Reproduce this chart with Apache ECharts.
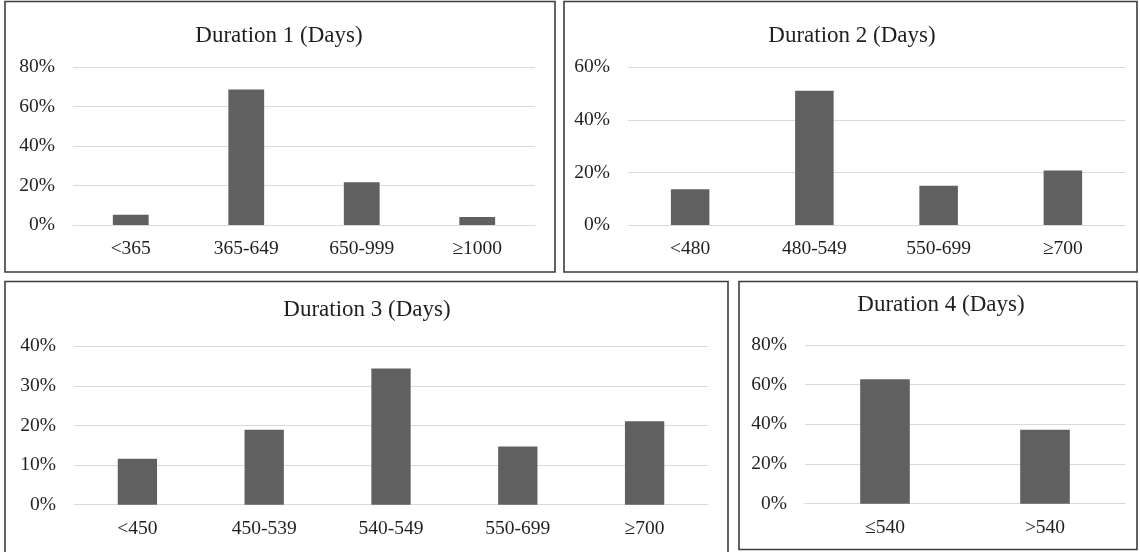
<!DOCTYPE html>
<html>
<head>
<meta charset="utf-8">
<script src="https://cdn.jsdelivr.net/npm/echarts@6/dist/echarts.min.js"></script>
<style>
html,body{margin:0;padding:0;background:#fff;}
#chart{width:1140px;height:552px;}
</style>
</head>
<body>
<div id="chart"></div>
<script>
// ---- data ----
const titles = ['Duration 1 (Days)', 'Duration 2 (Days)', 'Duration 3 (Days)', 'Duration 4 (Days)'];
const cats1 = ['<365', '365-649', '650-999', '≥1000'];
const vals1 = [5.2, 68.8, 21.7, 4.1];
const cats2 = ['<480', '480-549', '550-699', '≥700'];
const vals2 = [13.6, 51.1, 14.9, 20.7];
const cats3 = ['<450', '450-539', '540-549', '550-699', '≥700'];
const vals3 = [11.6, 18.9, 34.4, 14.7, 21.1];
const cats4 = ['≤540', '>540'];
const vals4 = [62.7, 37.3];
const yMax = [80, 60, 40, 80];
const yStep = [20, 20, 10, 20];

// ---- layout ----
const W = 1140, H = 552;
const panels = [
  {x: 5,   y: 1.5,   w: 550, h: 270.5},
  {x: 564, y: 1.5,   w: 573, h: 270.5},
  {x: 5,   y: 281.5, w: 723, h: 280},
  {x: 739, y: 281.5, w: 398, h: 268}
];
const grids = [
  {left: 73,  top: 67.3,  width: 462, height: 157.7},
  {left: 628, top: 67.3,  width: 497, height: 157.7},
  {left: 74,  top: 346.3, width: 634, height: 158.4},
  {left: 805, top: 345,   width: 320, height: 158.7}
];
const titleCenters = [[279, 36], [852, 36], [367, 310], [941, 305]];

const cats = [cats1, cats2, cats3, cats4];
const vals = [vals1, vals2, vals3, vals4];
const FONT = '"Liberation Serif", "Times New Roman", serif';
const TXT = '#1f1f1f';

const option = {
  animation: false,
  backgroundColor: '#fff',
  title: titles.map((t, i) => ({
    text: t,
    left: titleCenters[i][0],
    top: titleCenters[i][1],
    padding: 0,
    textAlign: 'center',
    textVerticalAlign: 'middle',
    textStyle: {fontFamily: FONT, fontSize: 23, fontWeight: 'normal', color: TXT}
  })),
  grid: grids.map(g => ({left: g.left, top: g.top, width: g.width, height: g.height, containLabel: false})),
  xAxis: cats.map((c, i) => ({
    type: 'category',
    gridIndex: i,
    data: c,
    axisLine: {show: true, lineStyle: {color: '#d9d9d9', width: 1}},
    axisTick: {show: false},
    axisLabel: {fontFamily: FONT, fontSize: 19.5, color: TXT, margin: 14, interval: 0}
  })),
  yAxis: cats.map((c, i) => ({
    type: 'value',
    gridIndex: i,
    min: 0,
    max: yMax[i],
    interval: yStep[i],
    axisLine: {show: false},
    axisTick: {show: false},
    splitLine: {show: true, lineStyle: {color: '#d9d9d9', width: 1}},
    axisLabel: {fontFamily: FONT, fontSize: 19.5, color: TXT, margin: 18, formatter: '{value}%'}
  })),
  series: vals.map((v, i) => ({
    type: 'bar',
    xAxisIndex: i,
    yAxisIndex: i,
    data: v,
    barWidth: '31%',
    itemStyle: {color: '#606060'}
  })),
  graphic: panels.map(p => ({
    type: 'rect',
    shape: {x: p.x, y: p.y, width: p.w, height: p.h},
    style: {fill: 'none', stroke: '#3c3c3c', lineWidth: 1.6},
    silent: true,
    z: 100
  }))
};

const chart = echarts.init(document.getElementById('chart'), null, {renderer: 'canvas', width: W, height: H});
chart.setOption(option);
</script>
</body>
</html>
